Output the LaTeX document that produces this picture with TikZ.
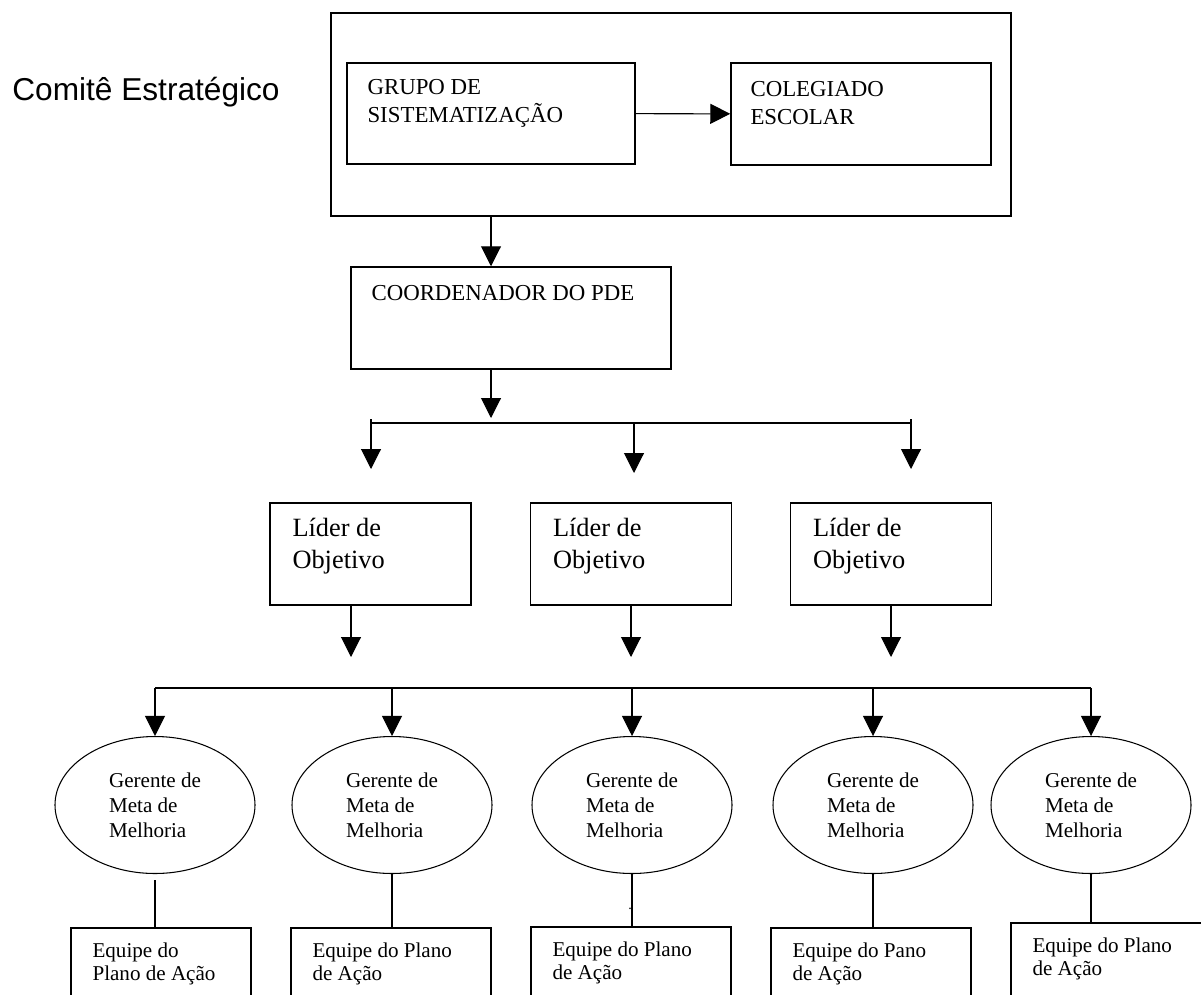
\documentclass[tikz,border=0pt]{standalone}
\usepackage{fontspec}
\setmainfont{Liberation Serif}
\newfontfamily\arialfont{Liberation Sans}
\usetikzlibrary{arrows.meta, shapes.geometric}

\begin{document}
\begin{tikzpicture}[x=0.2mm, y=-0.2mm, >={Triangle[length=4mm, width=4mm]}, line width=0.6pt,
  caixa/.style={draw, line width=0.85pt, inner sep=0pt},
  elipse/.style={draw, ellipse, minimum width=40mm, minimum height=27.4mm, align=left,
    inner sep=0pt, font=\fontsize{12}{14.2}\selectfont},
  texto/.style={anchor=west, align=left, inner sep=0pt}]
  \useasboundingbox (0,0) rectangle (1201,994);
  \clip (0,0) rectangle (1201,994);
  % comite estrategico
  \node[inner sep=0pt, font=\arialfont\fontsize{18}{21}\selectfont] (titulo) at (146,92) {Comitê Estratégico};
  \node[caixa, minimum width=136mm, minimum height=40.6mm] (comite) at (671,114.5) {};
  \node[caixa, minimum width=57.6mm, minimum height=20.2mm] (grupo) at (491,113.5) {};
  \node[caixa, minimum width=52mm, minimum height=20.4mm] (colegiado) at (861,114) {};
  \node[texto, font=\fontsize{13}{15.9}\selectfont] (tgrupo) at (367,103) {GRUPO DE\\SISTEMATIZAÇÃO};
  \node[texto, font=\fontsize{13}{15.9}\selectfont] (tcolegiado) at (750,103) {COLEGIADO\\ESCOLAR};
  \draw[->] (grupo) -- (colegiado);
  % coordenador
  \node[caixa, minimum width=64mm, minimum height=20.4mm] (coord) at (511,318) {};
  \node[texto, font=\fontsize{13}{15.9}\selectfont] (tcoord) at (371,293) {COORDENADOR DO PDE};
  \draw[->] (comite.south -| grupo) -- (coord.north -| grupo);
  % barra dos lideres
  \coordinate (s0) at (491,418);
  \coordinate (barra) at (0,423);
  \coordinate (s1) at (371,469);
  \coordinate (s2) at (634,473);
  \coordinate (s3) at (911,469);
  \draw[->] (coord.south -| s0) -- (s0);
  \draw (s1 |- barra) -- (s3 |- barra);
  \draw[->] ([yshift=0.8mm]s1 |- barra) -- (s1);
  \draw[->] (s2 |- barra) -- (s2);
  \draw[->] ([yshift=0.8mm]s3 |- barra) -- (s3);
  % lideres de objetivo
  \foreach \n/\x/\t in {1/370.5/351, 2/631/631, 3/891/891} {
    \node[caixa, minimum width=40.2mm, minimum height=20.4mm] (lider\n) at (\x,554) {};
    \node[texto, font=\fontsize{15}{18}\selectfont] (tlider\n) at (\x-78.5,546) {Líder de\\Objetivo};
    \coordinate (t\n) at (\t,657);
    \draw[->] (lider\n.south -| t\n) -- (t\n);
  }
  % gerentes de meta
  \coordinate (barra2) at (0,688);
  \foreach \n/\x in {1/155, 2/392, 3/632, 4/873, 5/1091}
    \node[elipse] (g\n) at (\x,805) {Gerente de\\Meta de\\Melhoria};
  \draw (g1.north |- barra2) -- (g5.north |- barra2);
  \foreach \n in {1,...,5}
    \draw[->] (g\n.north |- barra2) -- (g\n.north);
  % equipes do plano de acao
  \foreach \n/\x/\y/\w/\f/\txt in {1/161/928/180/1.2/{Equipe do\\Plano de Ação},
      2/391/928/200/0/{Equipe do Plano\\de Ação}, 3/631/927/200/0/{Equipe do Plano\\de Ação},
      4/871/928/200/0/{Equipe do Pano\\de Ação}, 5/1111/923/200/0/{Equipe do Plano\\de Ação}} {
    \node[caixa, minimum width=\w*0.2mm, minimum height=18mm] (eq\n) at (\x,\y+45) {};
    \node[texto, font=\fontsize{12}{13.2}\selectfont] (teq\n) at (\x-\w/2+21,\y+36) {\txt};
    \draw ([yshift=-\f mm]g\n.south) -- (g\n.south |- eq\n.north);
  }
  \node[inner sep=0pt, font=\fontsize{8}{8}\selectfont] (ponto) at (630,909) {.};
\end{tikzpicture}
\end{document}
